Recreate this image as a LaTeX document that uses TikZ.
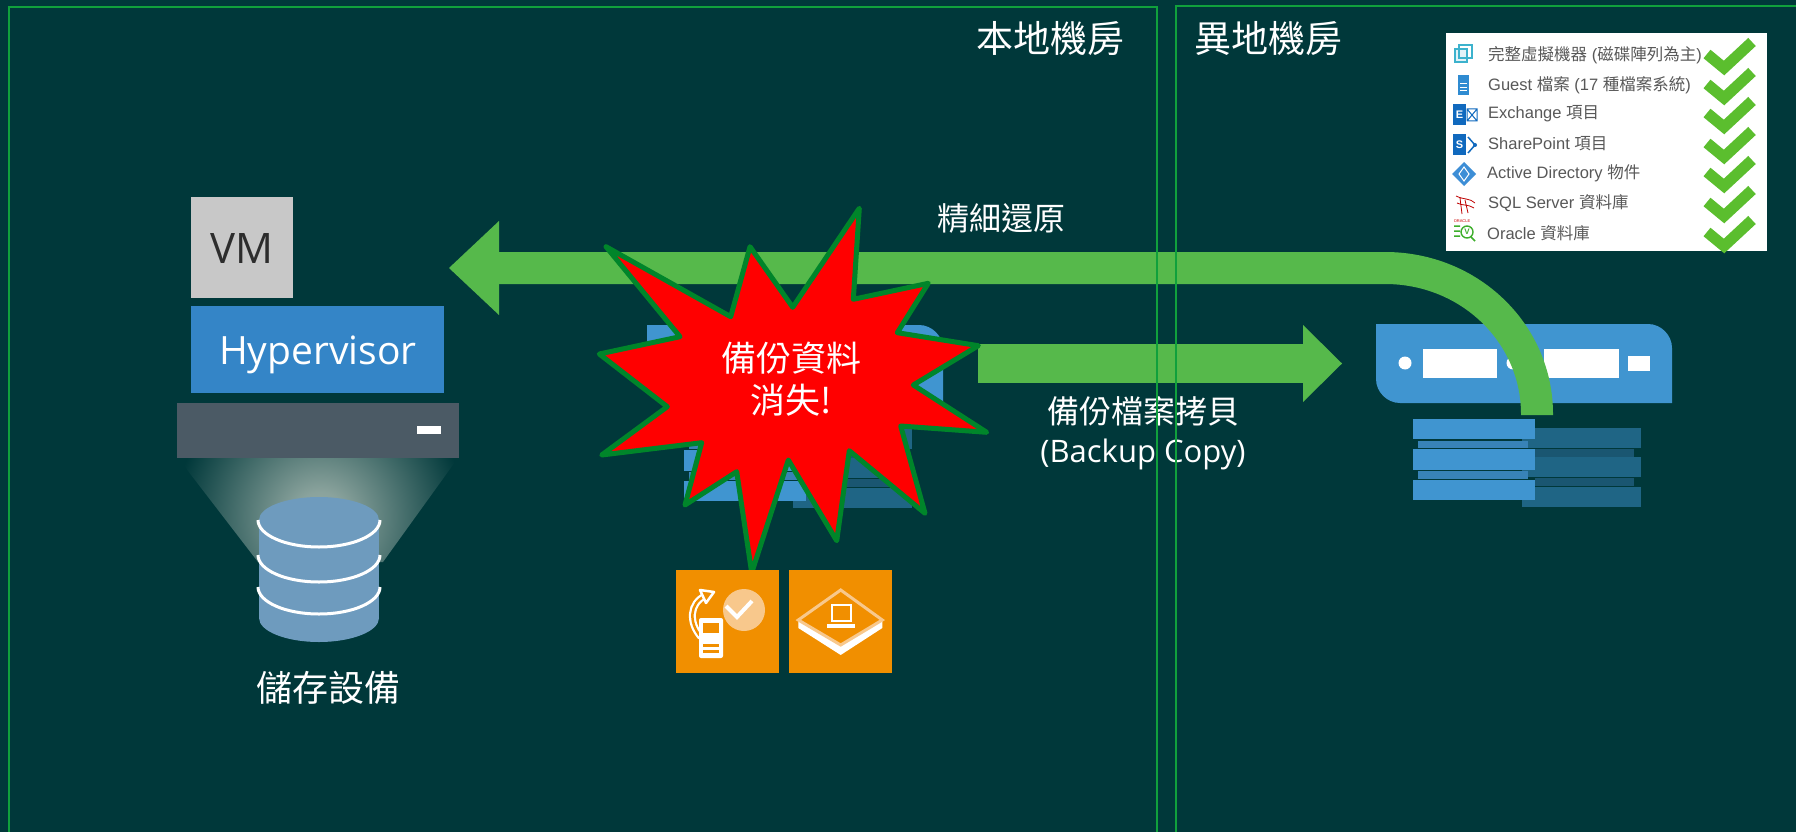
\documentclass[tikz,border=0pt]{standalone}
\usepackage{fontspec}
\usetikzlibrary{calc}
\newfontfamily\cjk{Noto Sans CJK TC}
\newfontfamily\latin{Open Sans}
\newfontfamily\arial{Liberation Sans}
\newcommand\setfs[1]{\fontsize{#1}{#1}\selectfont}
\newcommand\zhtxt[1]{{\cjk #1}}

\definecolor{bgc}{RGB}{0,56,58}
\definecolor{framegreen}{RGB}{16,160,60}
\definecolor{bandgreen}{RGB}{86,185,75}
\definecolor{vmgray}{RGB}{200,200,200}
\definecolor{vmtext}{RGB}{45,45,45}
\definecolor{hypblue}{RGB}{52,133,199}
\definecolor{barc}{RGB}{75,90,101}
\definecolor{cylc}{RGB}{110,155,190}
\definecolor{glowc}{RGB}{150,172,165}
\definecolor{srvblue}{RGB}{64,149,208}
\definecolor{darkstack}{RGB}{31,101,133}
\definecolor{burstred}{RGB}{255,0,0}
\definecolor{burstline}{RGB}{0,133,42}
\definecolor{orng}{RGB}{241,143,0}
\definecolor{orglight}{RGB}{248,200,140}
\definecolor{ckgreen}{RGB}{91,190,46}
\definecolor{itemgray}{RGB}{88,88,88}
\definecolor{cyanic}{RGB}{60,178,205}
\definecolor{docblue}{RGB}{47,139,209}
\definecolor{exblue}{RGB}{16,105,190}
\definecolor{adblue}{RGB}{61,142,214}
\definecolor{oragreen}{RGB}{61,174,43}

% soft glow between the server and the storage (the central 25bp radius covers the shaded path)
\pgfdeclareradialshading{glow}{\pgfpoint{0bp}{0bp}}{color(0bp)=(glowc); color(4bp)=(glowc!92!bgc); color(23bp)=(bgc); color(50bp)=(bgc)}

% one backup repository: server head and two disk stacks (local origin = top-left of the head)
\newcommand\drawrepo{%
  \fill[darkstack] (146,104) rectangle (265,124);
  \fill[darkstack!85!black] (159,125) rectangle (258,133);
  \fill[darkstack] (146,133) rectangle (265,153);
  \fill[darkstack!85!black] (159,154) rectangle (258,162);
  \fill[darkstack] (146,163) rectangle (265,183);
  \fill[srvblue] (37,95) rectangle (159,115);
  \fill[srvblue!88!black] (42,117) rectangle (152,124);
  \fill[srvblue] (37,125) rectangle (159,146);
  \fill[srvblue!88!black] (42,147) rectangle (152,155);
  \fill[srvblue] (37,156) rectangle (159,176);
  \fill[srvblue] (0,0) -- (272,0) .. controls (285,0) and (296,11) .. (296,24)
     -- (296,79) -- (24,79) .. controls (11,79) and (0,68) .. (0,55) -- cycle;
  \fill[white] (29,39) circle[radius=6.5];
  \fill[white] (47,25) rectangle (121,54);
  \fill[white] (137,39) circle[radius=6.5];
  \fill[white] (168,25) rectangle (243,54);
  \fill[white] (252,32) rectangle (274,47);
}

\tikzset{
  title/.style={text=white, inner sep=0, font=\cjk\setfs{37}},
  cjklabel/.style={text=white, inner sep=0, font=\cjk\setfs{32}},
  item/.style={anchor=west, inner sep=0, text=itemgray, font=\arial\setfs{16.5}},
  band/.style={bandgreen, line cap=butt},
  ckmark/.style={ckgreen, line width=11, line join=miter},
  region/.style={draw=framegreen, line width=2},
}

\begin{document}
\begin{tikzpicture}[x=1pt,y=-1pt]
\useasboundingbox (0,0) rectangle (1796,832);
\fill[bgc] (0,0) rectangle (1796,832);

% ---------- host with VM, hypervisor and storage ----------
\begin{scope}
  \clip (178,458) -- (458,458) -- (383,562) -- (258,562) -- cycle;
  \shade[shading=glow] (162,359) rectangle (478,675);
\end{scope}
\fill[vmgray] (191,197) rectangle (293,298);
\node[anchor=base, inner sep=0, text=vmtext, font=\latin\setfs{42}] (vmlabel) at (242,263) {VM};
\fill[hypblue] (191,306) rectangle (444,393);
\node[anchor=base, inner sep=0, text=white, font=\latin\setfs{39}] (hyplabel) at (318,364) {Hypervisor};
\fill[barc] (177,403) rectangle (459,458);
\fill[white] (417,426) rectangle (441,434);

% storage cylinder
\fill[cylc] (319,618) ellipse[x radius=60, y radius=24];
\fill[cylc] (259,520) rectangle (379,618);
\fill[cylc] (319,520) ellipse[x radius=60, y radius=23];
\foreach \yc in {520,555,587}{
  \draw[white, line width=3, shift={(0,\yc)}] (258,0) .. controls (258,14.9) and (285.3,27) .. (319,27)
        .. controls (352.7,27) and (380,14.9) .. (380,0);
}
\node[title, font=\cjk\setfs{36}] (storagelabel) at (328,688) {儲存設備};

% ---------- repositories ----------
\begin{scope}[shift={(647,325)}] \drawrepo \end{scope}
\begin{scope}[shift={(1376,324)}] \drawrepo \end{scope}

% ---------- backup copy arrow ----------
\coordinate (copyStart) at (978,363.5);
\coordinate (copyTip) at (1342,363.5);
\fill[bandgreen] (copyStart) ++(0,-19.5) rectangle (1304,383);
\fill[bandgreen] (1303,325) -- (copyTip) -- (1303,402) -- cycle;
\node[cjklabel] (copylabel) at (1143,411) {備份檔案拷貝};
\node[anchor=base, inner sep=0, text=white, font=\latin\setfs{31}] (copylabel2) at (1143,462) {(Backup Copy)};

% ---------- granular restore arrow ----------
\coordinate (restoreStart) at (1537,415);
\coordinate (restoreTip) at (449,268);
\draw[band, line width=32] (restoreStart) -- (1537,414) .. controls (1537,333.8) and (1470,268) .. (1385,268) -- (497,268);
\fill[bandgreen] (restoreTip) -- (499,221) -- (499,315) -- cycle;
\node[cjklabel, font=\cjk\setfs{32}] (restorelabel) at (1001,219) {精細還原};

% ---------- data loss burst ----------
\draw[fill=burstred, draw=burstline, line width=5, line join=round]
  (606.0,246.7) -- (680.0,336.7) -- (599.3,354.0) -- (667.3,406.7) -- (601.7,455.0)
  -- (701.7,442.7) -- (685.0,505.0) -- (736.7,471.7) -- (751.7,572.7) -- (788.3,460.0)
  -- (836.7,540.7) -- (849.3,450.7) -- (925.0,513.3) -- (900.7,426.0) -- (986.7,432.3)
  -- (913.3,385.0) -- (978.3,345.7) -- (897.3,332.7) -- (928.3,283.3) -- (853.3,299.3)
  -- (859.3,208.3) -- (792.7,307.3) -- (750.0,246.7) -- (730.7,316.7) -- cycle;
\node[text=white, inner sep=0, align=center, font=\cjk\fontsize{35}{42}\selectfont] (losslabel) at (791,379) {備份資料\\消失!};

% ---------- orange feature tiles ----------
\fill[orng] (676,570) rectangle (779,673);
\fill[orglight] (744,610) circle[radius=21];
\draw[white, line width=4] (726,606) -- (737,617) -- (752,601);
\draw[white, line width=7] (701,637) .. controls (688,622) and (690,603) .. (705,596);
\draw[orng, line width=2.5] (701,637) .. controls (688,622) and (690,603) .. (705,596);
\draw[white, line width=2.5, line join=round, fill=orng] (700,590) -- (714,592) -- (706,603) -- cycle;
\fill[white, rounded corners=2] (699,618) rectangle (723,658);
\fill[orng] (703,623) rectangle (719,633);
\fill[orng] (703,644) rectangle (719,646.5);
\fill[orng] (703,650) rectangle (719,652.5);

\fill[orng] (789,570) rectangle (892,673);
\fill[white] (798.3,620) -- (840.7,645) -- (882.3,620) -- (882.3,628) -- (840.7,655) -- (798.3,628) -- cycle;
\draw[orglight, line width=3, line join=miter] (840.7,590) -- (882.3,620) -- (840.7,645) -- (798.3,620) -- cycle;
\draw[white, line width=2.5] (832,605) rectangle (851,621);
\fill[white] (826.7,624) rectangle (855,627.5);

% ---------- restore capability list ----------
\fill[white] (1446,33) rectangle (1767,251);
% icons
\draw[cyanic, line width=1.2, fill=cyanic!15] (1455,49) rectangle (1467,62);
\draw[cyanic, line width=1.2] (1459,45) rectangle (1472,58);
\fill[docblue] (1458,75) rectangle (1469,95);
\draw[white, line width=1] (1460,84) -- (1467,84) (1460,87.5) -- (1467,87.5) (1460,91) -- (1467,91);
\fill[exblue] (1453,104) rectangle (1466,125);
\node[inner sep=0, text=white, font=\arial\bfseries\setfs{11}] (exE) at (1459.5,114.5) {E};
\draw[exblue, line width=1] (1467,109) rectangle (1477,121) (1467,109) -- (1477,121) (1467,121) -- (1477,109);
\fill[exblue] (1453,134) rectangle (1466,155);
\node[inner sep=0, text=white, font=\arial\bfseries\setfs{11}] (spS) at (1459.5,144.5) {S};
\draw[exblue, line width=1.5] (1468,137) -- (1475,145) -- (1468,153);
\fill[exblue] (1475,145) circle[radius=2];
\fill[adblue] (1464,162) -- (1476,174) -- (1464,186) -- (1452,174) -- cycle;
\draw[white, line width=1] (1464,167) -- (1459,174) -- (1464,181) -- (1469,174) -- cycle;
\draw[red!75!black, line width=0.8] (1456,196) .. controls (1464,200) and (1470,198) .. (1475,203)
   (1457,203) .. controls (1463,206) and (1468,204) .. (1474,208) (1460,198) -- (1462,214) (1465,200) -- (1468,213);
\node[inner sep=0, text=red!80!black, font=\arial\setfs{4}] (oralogo) at (1462,221) {ORACLE};
\draw[oragreen, line width=1.4] (1467,232) circle[radius=6];
\node[inner sep=0, text=oragreen, font=\arial\bfseries\setfs{8}] (oraV) at (1467,232) {V};
\draw[oragreen, line width=1.5] (1454,226) -- (1460,226) (1454,231) -- (1460,231) (1454,236) -- (1460,236) (1471,237) -- (1475,241);

% list texts
\node[item] (item1) at (1488,55) {\zhtxt{完整虛擬機器} (\zhtxt{磁碟陣列為主})};
\node[item] (item2) at (1488,85) {Guest \zhtxt{檔案} (17 \zhtxt{種檔案系統})};
\node[item] (item3) at (1488,114) {Exchange \zhtxt{項目}};
\node[item] (item4) at (1488,144) {SharePoint \zhtxt{項目}};
\node[item] (item5) at (1487,173) {Active Directory \zhtxt{物件}};
\node[item] (item6) at (1488,203) {SQL Server \zhtxt{資料庫}};
\node[item] (item7) at (1487,233) {Oracle \zhtxt{資料庫}};
\foreach \yy in {55,85,114,144,173,203,233}
  \draw[ckmark] (1707,\yy-1) -- (1724,\yy+13) -- (1752,\yy-13);

% ---------- site frames and titles ----------
\draw[region] (9,7.5) rectangle (1157,845);
\draw[region] (1176,6) rectangle (1805,845);
\node[title] (localtitle) at (1050,39) {本地機房};
\node[title] (remotetitle) at (1268,39) {異地機房};
\end{tikzpicture}
\end{document}
